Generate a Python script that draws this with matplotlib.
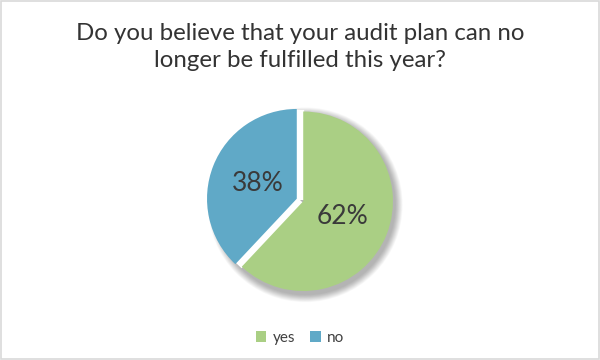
import matplotlib
matplotlib.use("Agg")
import numpy as np
import matplotlib.pyplot as plt
from matplotlib.patches import Rectangle, Circle

# data
labels = ["yes", "no"]
shares = [62, 38]
colors = ["#aacf84", "#60a9c7"]
title = "Do you believe that your audit plan can no\nlonger be fulfilled this year?"

plt.rcParams["font.family"] = ["Lato", "DejaVu Sans"]

fig = plt.figure(figsize=(6, 3.6), dpi=100)
fig.patch.set_facecolor("white")
fig.patches.append(Rectangle((0.001, 0.002), 0.997, 0.995, transform=fig.transFigure,
                             fill=False, edgecolor="#d9d9d9", linewidth=1.2))

fig.text(0.5, 1 - 67 / 360, title, ha="center", va="baseline", fontsize=17.3,
         color="#333333", linespacing=1.36, multialignment="center")

# pie area: 240x240 px centred at (300, 200)
ax = fig.add_axes([0.3, 40 / 360, 0.4, 240 / 360])
ax.set_xlim(-1.2, 1.2)
ax.set_ylim(-1.2, 1.2)
ax.set_aspect("equal")
ax.axis("off")

R = 0.935

# soft shadow
for i in range(16):
    ax.add_patch(Circle((0.055, -0.05), R + 0.005 * (16 - i), color="black",
                        alpha=0.02, linewidth=0, zorder=0))

wedges, texts, autotexts = ax.pie(
    shares, colors=colors, startangle=90, counterclock=False, radius=R,
    explode=[0.036, 0.036], autopct="%d%%", pctdistance=0.47,
    textprops=dict(fontsize=19, color="#3a3a3a"),
    wedgeprops=dict(linewidth=0))
for w in wedges:
    w.set_zorder(2)
for t in autotexts:
    t.set_zorder(3)

# keep the gaps between slices white (cover the shadow there)
for w in wedges:
    a = np.deg2rad(w.theta1)
    ax.plot([0, R * np.cos(a)], [0, R * np.sin(a)], color="white",
            linewidth=6, solid_capstyle="butt", zorder=1)

fig.legend(wedges, labels, loc="center", bbox_to_anchor=(0.5, 0.062),
           ncol=2, frameon=False, fontsize=11, handlelength=0.7,
           handleheight=0.7, handletextpad=0.4, columnspacing=1.0,
           labelcolor="#404040")

fig.savefig("out.png", dpi=100)
